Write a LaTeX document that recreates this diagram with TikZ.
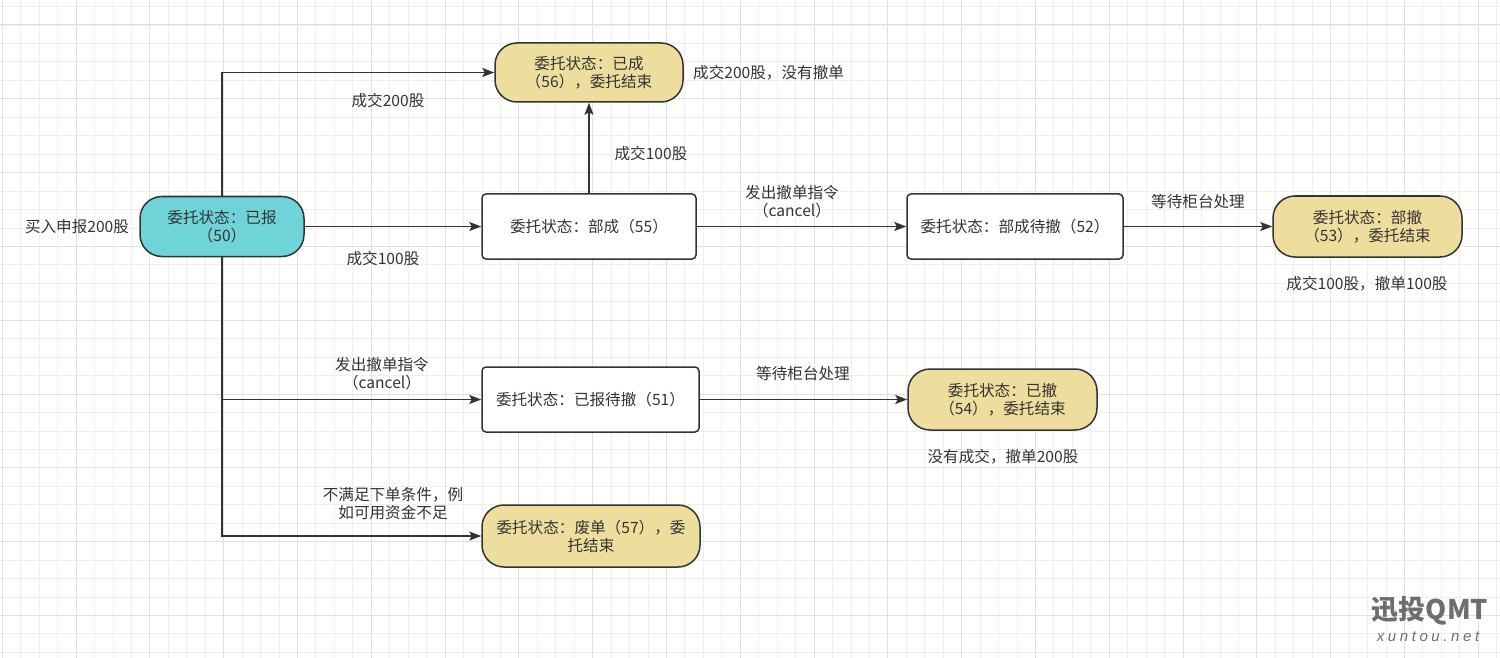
\documentclass[tikz,border=0pt]{standalone}
\usepackage{fontspec}
\setmainfont{Noto Sans CJK SC}
\newfontfamily\wmfont[LetterSpace=24]{Liberation Sans}
\usetikzlibrary{arrows.meta}
\definecolor{txt}{HTML}{333333}
\definecolor{cyanfill}{HTML}{6FD4D8}
\definecolor{yelfill}{HTML}{EEDE9E}
\definecolor{gridminor}{HTML}{EFEFEF}
\definecolor{gridmajor}{HTML}{E0E0E0}
\definecolor{wm}{HTML}{6E6E6E}
\begin{document}
\begin{tikzpicture}[x=1pt,y=-1pt,
  base/.style={draw=txt, line width=1.5pt, text=txt, align=center,
    font=\fontsize{15.6}{18}\selectfont, inner sep=0pt},
  term/.style={base, rounded corners=22pt},
  cyanbox/.style={term, fill=cyanfill},
  yelbox/.style={term, fill=yelfill},
  statebox/.style={base, fill=white, rounded corners=4pt},
  lbl/.style={text=txt, align=center, inner sep=0pt,
    font=\fontsize{15.6}{18}\selectfont},
  arr/.style={draw=txt, line width=1.5pt,
    -{Stealth[length=12pt,width=9pt,inset=2.5pt]}}]
\useasboundingbox (0,0) rectangle (1500,658);
\fill[white] (0,0) rectangle (1500,658);
% grid
\foreach \i in {0,...,81} {
  \draw[gridminor, line width=0.8pt] (2.2+\i*18.45,0) -- (2.2+\i*18.45,658);
}
\foreach \j in {-2,...,36} {
  \draw[gridminor, line width=0.8pt] (0,25+\j*18.45) -- (1500,25+\j*18.45);
}
\foreach \i in {0,...,20} {
  \draw[gridmajor, line width=1pt] (2.2+\i*73.8,0) -- (2.2+\i*73.8,658);
}
\foreach \j in {0,...,9} {
  \draw[gridmajor, line width=1pt] (0,25+\j*73.8) -- (1500,25+\j*73.8);
}

% nodes
\node[cyanbox, minimum width=164pt, minimum height=60pt] (n50) at (222,226.5)
  {委托状态：已报\\（50）};
\node[yelbox, minimum width=188pt, minimum height=59pt] (n56) at (589,72.5)
  {委托状态：已成\\（56），委托结束};
\node[statebox, minimum width=214pt, minimum height=65pt] (n55) at (589,226.5)
  {委托状态：部成（55）};
\node[statebox, minimum width=216pt, minimum height=65pt] (n52) at (1015,226.5)
  {委托状态：部成待撤（52）};
\node[yelbox, minimum width=189pt, minimum height=61pt] (n53) at (1367.5,226.5)
  {委托状态：部撤\\（53），委托结束};
\node[statebox, minimum width=217pt, minimum height=65pt] (n51) at (590.5,399.5)
  {委托状态：已报待撤（51）};
\node[yelbox, minimum width=189pt, minimum height=61pt] (n54) at (1002.5,399.5)
  {委托状态：已撤\\（54），委托结束};
\node[yelbox, minimum width=218pt, minimum height=62pt] (n57) at (591,536)
  {委托状态：废单（57），委\\托结束};

% connectors
\draw[arr] (n50.north) |- (n56.west);
\draw[arr] (n50.east) -- (n55.west);
\draw[arr] (n55.north) -- (n56.south);
\draw[arr] (n55.east) -- (n52.west);
\draw[arr] (n52.east) -- (n53.west);
\draw[arr] (n50.south) |- (n51.west);
\draw[arr] (n50.south) |- (n57.west);
\draw[arr] (n51.east) -- (n54.west);

% labels
\node[lbl] (l0) at (77,227) {买入申报200股};
\node[lbl] (l1) at (388,101) {成交200股};
\node[lbl, anchor=west] (l2) at (693,73) {成交200股，没有撤单};
\node[lbl] (l3) at (651,154) {成交100股};
\node[lbl] (l4) at (383,259) {成交100股};
\node[lbl] (l5) at (792,202) {发出撤单指令\\（cancel）};
\node[lbl] (l6) at (1198,202) {等待柜台处理};
\node[lbl] (l7) at (1367,284) {成交100股，撤单100股};
\node[lbl] (l8) at (382,374) {发出撤单指令\\（cancel）};
\node[lbl] (l9) at (803,374) {等待柜台处理};
\node[lbl] (l10) at (1003,457) {没有成交，撤单200股};
\node[lbl] (l11) at (393,504) {不满足下单条件，例\\如可用资金不足};

% watermark
\node[text=wm, inner sep=0pt, font=\fontsize{27}{29}\bfseries\selectfont] (wm1) at (1430,611) {迅投QMT};
\node[text=wm, inner sep=0pt, font=\wmfont\itshape\fontsize{15}{16}\selectfont] (wm2) at (1428,637) {xuntou.net};
\end{tikzpicture}
\end{document}
